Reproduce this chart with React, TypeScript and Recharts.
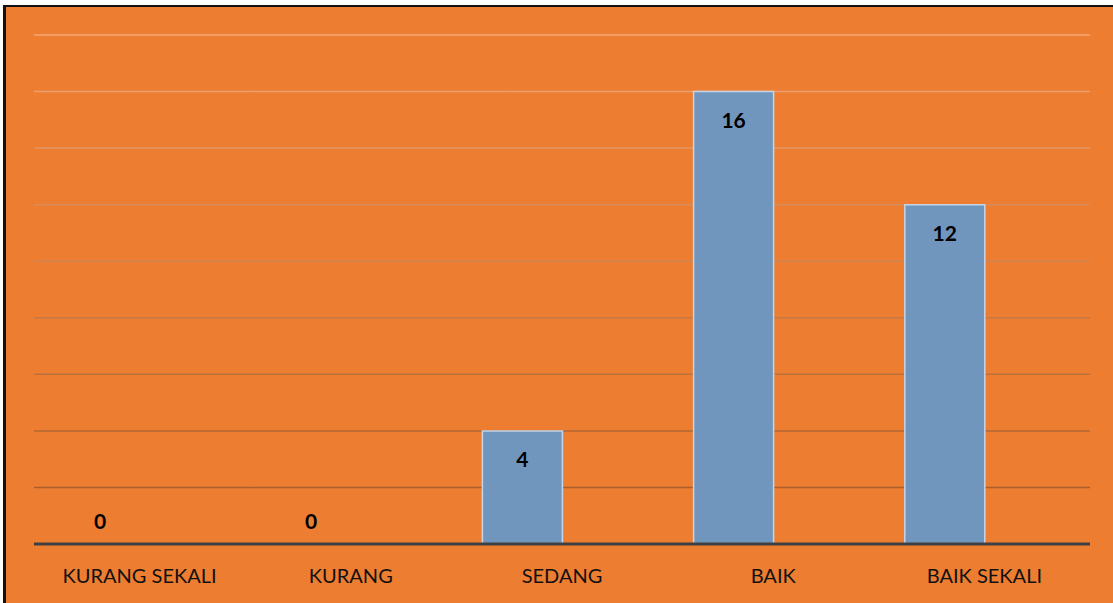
import { BarChart, Bar, XAxis, YAxis, CartesianGrid, LabelList, Cell } from 'recharts';

const categories = ['KURANG SEKALI', 'KURANG', 'SEDANG', 'BAIK', 'BAIK SEKALI'];
const counts = [0, 0, 4, 16, 12];
// second series in the source chart is empty, it only reserves the right half of each slot
const emptySeries = [null, null, null, null, null];
const yTicks = [0, 2, 4, 6, 8, 10, 12, 14, 16, 18];

const data = categories.map((name, i) => ({ name, value: counts[i], other: emptySeries[i] }));

const FONT = 'Lato, "Open Sans", sans-serif';

// zero bars get their label above the axis, others inside the top of the bar
const renderValue = (props: any) => {
    const { x, y, width, value } = props;
    const cx = x + width / 2;
    const cy = Number(value) > 0 ? y + 28 : y - 23;
    return (
        <text x={cx} y={cy} textAnchor="middle" dominantBaseline="central"
            fontFamily={FONT} fontSize={21} fontWeight={700} fill="#000">
            {value}
        </text>
    );
};

export default function App() {
    return (
        <div style={{ position: 'absolute', left: 0, top: 0, width: 1113, height: 603, background: '#fff' }}>
            <div style={{
                position: 'absolute', left: 3, top: 5, right: 0, bottom: 0,
                background: '#ED7D31', borderLeft: '3px solid #111', borderTop: '2px solid #111'
            }} />
            <div style={{ position: 'absolute', left: 0, top: 0 }}>
                <BarChart width={1113} height={603} data={data}
                    margin={{ top: 35, right: 23, bottom: 29, left: 34 }}
                    barSize={80} barGap={0}>
                    <defs>
                        <linearGradient id="gridFade" gradientUnits="userSpaceOnUse" x1="0" y1="35" x2="0" y2="544">
                            <stop offset="0%" stopColor="#F4A878" />
                            <stop offset="100%" stopColor="#9E5420" />
                        </linearGradient>
                    </defs>
                    <CartesianGrid vertical={false} stroke="url(#gridFade)" strokeWidth={1.5} />
                    <YAxis hide domain={[0, 18]} ticks={yTicks} />
                    <XAxis dataKey="name" tickLine={false} tickSize={0} tickMargin={25}
                        axisLine={{ stroke: '#404040', strokeWidth: 3 }}
                        tick={{ fill: '#111', fontSize: 20, fontFamily: FONT }} />
                    <Bar dataKey="value" fill="#7096BD" stroke="#C5D5E8" strokeWidth={1.5}
                        minPointSize={(v: any) => (v === 0 ? 0.01 : 0)}
                        isAnimationActive={false}>
                        {counts.map((c, i) => (
                            <Cell key={i} fill={c === 0 ? 'none' : '#7096BD'} stroke={c === 0 ? 'none' : '#C5D5E8'} />
                        ))}
                        <LabelList dataKey="value" content={renderValue} />
                    </Bar>
                    <Bar dataKey="other" fill="#A5A5A5" isAnimationActive={false} />
                </BarChart>
            </div>
        </div>
    );
}
